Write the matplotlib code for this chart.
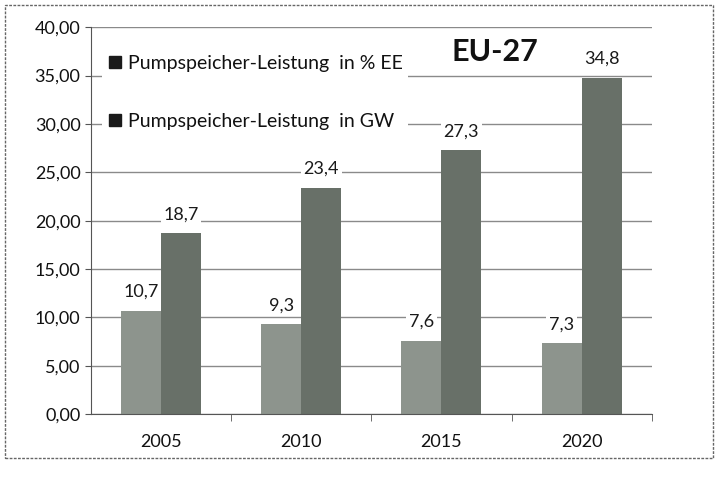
import matplotlib
matplotlib.use("Agg")
import matplotlib.pyplot as plt
import numpy as np
from matplotlib.lines import Line2D
from matplotlib.patches import Rectangle

plt.rcParams['font.family'] = ['Lato', 'DejaVu Sans']

jahre = ["2005", "2010", "2015", "2020"]
anteil_ee = [10.7, 9.3, 7.6, 7.3]
leistung_gw = [18.7, 23.4, 27.3, 34.8]
legende = ["Pumpspeicher-Leistung  in % EE", "Pumpspeicher-Leistung  in GW"]

fig = plt.figure(figsize=(7.18, 4.86), dpi=100)
ax = fig.add_axes([0.1267, 0.148, 0.781, 0.796])

x = np.arange(len(jahre))
w = 0.285
hell = "#8d948d"
dunkel = "#687068"

ax.bar(x - w / 2, anteil_ee, w, color=hell, zorder=2)
ax.bar(x + w / 2, leistung_gw, w, color=dunkel, zorder=2)

for xi, v in zip(x, anteil_ee):
    ax.text(xi - w / 2, v + 1.1, f"{v:.1f}".replace(".", ","), ha="center", va="bottom",
            fontsize=13, color="#1a1a1a", zorder=3,
            bbox=dict(facecolor="white", edgecolor="none", pad=2))
for xi, v in zip(x, leistung_gw):
    ax.text(xi + w / 2, v + 1.1, f"{v:.1f}".replace(".", ","), ha="center", va="bottom",
            fontsize=13, color="#1a1a1a", zorder=3,
            bbox=dict(facecolor="white", edgecolor="none", pad=2))

ax.set_xlim(-0.5, len(jahre) - 0.5)
ax.set_ylim(0, 40)
ax.set_yticks(np.arange(0, 40.1, 5))
ax.set_yticklabels([f"{t:.2f}".replace(".", ",") for t in np.arange(0, 40.1, 5)],
                   fontsize=13, color="#111111")
ax.set_xticks(x)
ax.set_xticklabels(jahre, fontsize=13, color="#111111")
ax.set_xticks(np.arange(0.5, len(jahre), 1), minor=True)
ax.tick_params(axis="x", which="major", length=0, pad=14)
ax.tick_params(axis="x", which="minor", length=5, color="#555555")
ax.tick_params(axis="y", length=4, color="#555555")
ax.grid(axis="y", color="#8a8a8a", linewidth=1, zorder=0)
ax.set_axisbelow(True)
for s in ["top", "right"]:
    ax.spines[s].set_visible(False)
ax.spines["left"].set_color("#555555")
ax.spines["bottom"].set_color("#555555")

handles = [Line2D([], [], marker="s", color="#1a1a1a", linestyle="none", markersize=8) for _ in legende]
leg = ax.legend(handles, legende, loc="upper left", bbox_to_anchor=(0.003, 0.968), frameon=True,
                fontsize=14, labelspacing=2.1, handletextpad=0.3, handlelength=0.7,
                borderpad=0.3, labelcolor="#111111")
leg.get_frame().set_facecolor("white")
leg.get_frame().set_edgecolor("none")
leg.get_frame().set_alpha(1)

ax.text(0.72, 0.935, "EU-27", transform=ax.transAxes, ha="center", va="center",
        fontsize=22, fontweight="bold", color="#111111", zorder=4,
        bbox=dict(facecolor="white", edgecolor="none", pad=4))

fig.patches.append(Rectangle((0.007, 0.058), 0.986, 0.932, transform=fig.transFigure,
                             fill=False, edgecolor="#666666", linewidth=1, linestyle=(0, (2, 1))))

fig.savefig("out.png", dpi=100)
